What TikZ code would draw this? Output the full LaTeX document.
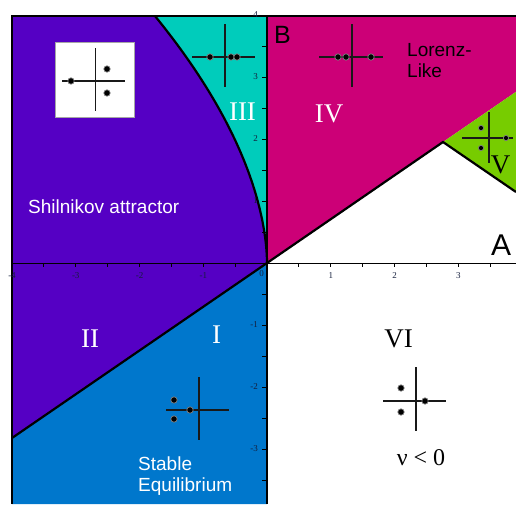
\documentclass[tikz,border=0pt]{standalone}
\usepackage{fontspec}
\setmainfont{Liberation Serif}
\newfontfamily\lsans{Liberation Sans}
\definecolor{purp}{RGB}{85,0,196}
\definecolor{tealc}{RGB}{0,204,187}
\definecolor{magc}{RGB}{204,0,119}
\definecolor{bluc}{RGB}{0,119,204}
\definecolor{grnc}{RGB}{119,204,0}
\definecolor{tlc}{RGB}{20,30,60}
\definecolor{xhc}{RGB}{25,25,25}
\begin{document}
\begin{tikzpicture}[x=1pt,y=-1pt,
  bd/.style={line width=2.2pt, black},
  romw/.style={font=\fontsize{27}{30}\selectfont, text=white, inner sep=0pt, anchor=base},
  romb/.style={romw, text=black},
  lab/.style={font=\lsans\fontsize{19}{21}\selectfont, inner sep=0pt, align=left},
  bigl/.style={font=\lsans\fontsize{25}{28}\selectfont, inner sep=0pt, anchor=base},
  tickm/.style={line width=0.8pt, black},
  tl/.style={font=\fontsize{9}{10}\selectfont, text=tlc, inner sep=0pt},
  xh/.style={line width=1.3pt, draw=xhc},
  dotc/.style={fill=black, draw=gray, line width=0.7pt},
]
\useasboundingbox (0,0) rectangle (516,504);
% key points
\coordinate (O) at (267,263);
\coordinate (TL) at (12,16);
\coordinate (CT) at (154.9,16);
\coordinate (AT) at (267,16);
\coordinate (TR) at (516,16);
\coordinate (RM) at (516,91.8);
\coordinate (GV) at (443,142);
\coordinate (RG) at (516,192);
\coordinate (LL) at (12,438);
\coordinate (BL) at (12,504);
\coordinate (AB) at (267,504);
\coordinate (XL) at (12,263);
\coordinate (XR) at (516,263);
% regions
\fill[purp] (TL) -- (CT) -- plot[domain=3.984:0.01,samples=80] ({267-9.31*(\x)^1.8},{263-62*\x}) -- (O) -- (LL) -- cycle;
\fill[tealc] (CT) -- plot[domain=3.984:0.01,samples=80] ({267-9.31*(\x)^1.8},{263-62*\x}) -- (O) -- (AT) -- cycle;
\fill[magc] (AT) -- (TR) -- (RM) -- (O) -- cycle;
\fill[grnc] (GV) -- (RM) -- (RG) -- cycle;
\fill[bluc] (LL) -- (O) -- (AB) -- (BL) -- cycle;
% boundary lines
\draw[bd] plot[domain=3.984:0.01,samples=80] ({267-9.31*(\x)^1.8},{263-62*\x}) -- (O);
\draw[bd] (O) -- (LL);
\draw[bd] (O) -- (GV) -- (RG);
% axes and frame
\draw[line width=1pt] (XL) -- (XR);
\draw[line width=2.2pt] (AT) -- (AB);
\draw[line width=2pt] (BL) -- (TL) -- (TR);
\foreach \k in {-8,...,7} \draw[tickm] ({267+31.875*\k},263) -- ++(0,4);
\foreach \k in {-7,...,8} \draw[tickm] (266,{263-31*\k}) -- ++(-4,0);
\foreach \v/\k in {-4/-4,-3/-3,-2/-2,-1/-1,1/1,2/2,3/3}
  \node[tl] (xl\k) at ({267+63.75*\k},276) {\v};
\foreach \v/\k in {-3/-3,-2/-2,-1/-1,1/1,2/2,3/3,4/4}
  \node[tl, anchor=east] (yl\k) at (258,{263-62*\k}) {\v};
\node[tl] (zl) at (261.5,273.5) {0};
% eigenvalue insets
\draw[fill=white, draw=gray!70, line width=1pt] (55,42) rectangle (134,117);
\draw[xh] (62,81) -- (125,81); \draw[xh] (95.7,48) -- (95.7,111);
\foreach \p in {(71,81),(107,69),(107,93)} \draw[dotc] \p circle (3.2);
\draw[xh] (192,57) -- (255,57); \draw[xh] (225,24) -- (225,87);
\foreach \p in {(210,57),(231,57),(237,57)} \draw[dotc] \p circle (3.2);
\draw[xh] (319,57) -- (383,57); \draw[xh] (352,24) -- (352,87);
\foreach \p in {(338,57),(346,57),(371,57)} \draw[dotc] \p circle (3.2);
\draw[xh] (462,138) -- (513,138); \draw[xh] (489,112) -- (489,163);
\foreach \p in {(481,128),(481,148),(506,138)} \draw[dotc] \p circle (2.6);
\draw[xh] (166,410) -- (229,410); \draw[xh] (199,377) -- (199,440);
\foreach \p in {(174,400),(174,419),(190,410)} \draw[dotc] \p circle (3.2);
\draw[xh] (383,401) -- (446,401); \draw[xh] (416,367) -- (416,431);
\foreach \p in {(401,388),(401,412),(425,401)} \draw[dotc] \p circle (3.2);
% labels
\node[romw] (rI) at (216.5,343) {I};
\node[romw] (rII) at (90,347) {II};
\node[romw] (rIII) at (242.5,120) {III};
\node[romw] (rIV) at (329,122) {IV};
\node[romb] (rV) at (500.5,173) {V};
\node[romb] (rVI) at (398.5,347) {VI};
\node[font=\fontsize{24}{28}\selectfont, inner sep=0pt, anchor=base] (nu) at (421,465) {ν < 0};
\node[bigl] (lB) at (282.5,43) {B};
\node[bigl, font=\lsans\fontsize{30}{34}\selectfont] (lA) at (501,255) {A};
\node[lab, text=white, anchor=base west] (shil) at (28,213) {Shilnikov attractor};
\node[lab, text=white, anchor=north west] (stab) at (138,457) {Stable\\Equilibrium};
\node[lab, text=black, anchor=north west] (lor) at (407,43) {Lorenz-\\Like};
\end{tikzpicture}
\end{document}
